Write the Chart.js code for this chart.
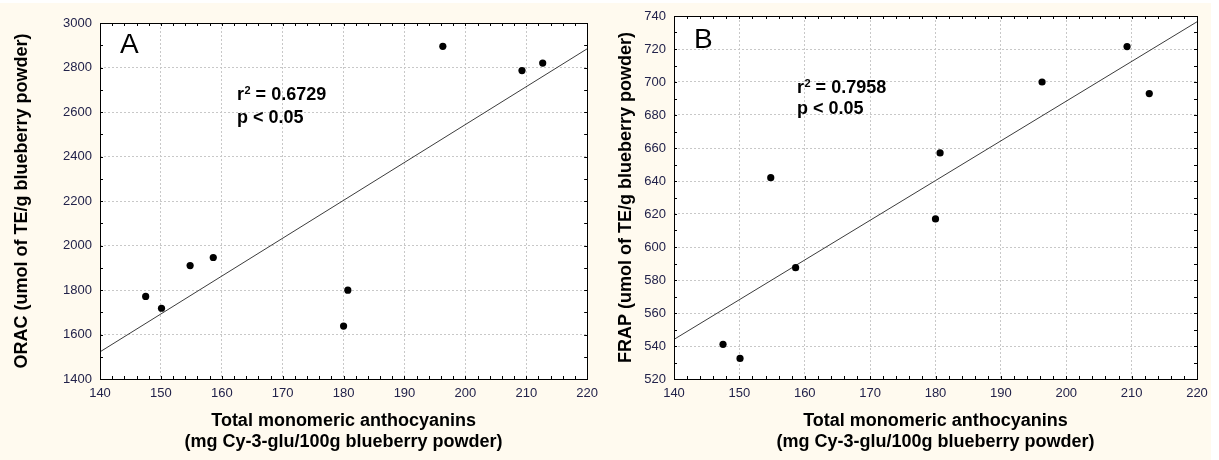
<!DOCTYPE html>
<html>
<head>
<meta charset="utf-8">
<script src="https://cdn.jsdelivr.net/npm/chart.js@4.4.1/dist/chart.umd.min.js"></script>
<style>
  html, body { margin: 0; padding: 0; background: #ffffff; }
  #page { position: absolute; left: 0; top: 3px; width: 1211px; height: 457px; background: #fffaef; }
  .panel { position: absolute; top: 0; height: 460px; }
  #panelA { left: 0; width: 605px; }
  #panelB { left: 605px; width: 614px; }
</style>
</head>
<body>
<div id="page"></div>
<div class="panel" id="panelA"><canvas id="chartA"></canvas></div>
<div class="panel" id="panelB"><canvas id="chartB"></canvas></div>
<script>
// Total monomeric anthocyanins of each blueberry powder sample (mg Cy-3-glu/100g)
const anthocyanins = [147.5, 150.1, 154.8, 158.6, 180.0, 180.7, 196.3, 209.3, 212.7];
// ORAC (umol TE/g) of the same samples
const oracValues = [1771, 1718, 1910, 1946, 1638, 1799, 2895, 2786, 2820];
// FRAP (umol TE/g) of the same samples
const frapValues = [541, 532.5, 642, 587.5, 617, 657, 700, 721.5, 693];
// Fitted regression lines, evaluated at the ends of the x range
const fitX = [140, 220];
const oracFit = [1522, 2884];
const frapFit = [544, 736.5];
// Axis ranges and tick steps
const xRange = [140, 220];
const xMajor = 10, xMinor = 2;
const oracRange = [1400, 3000];
const oracMajor = 200, oracMinor = 100;
const frapRange = [520, 740];
const frapMajor = 20, frapMinor = 10;
// Statistics printed on each panel
const oracStats = ['0.6729', 'p < 0.05'];
const frapStats = ['0.7958', 'p < 0.05'];

const xTitle = ['Total monomeric anthocyanins', '(mg Cy-3-glu/100g blueberry powder)'];
const FONT = '"Liberation Sans", Arial, sans-serif';
const TICK_COLOR = '#22224a';

const pairs = (xs, ys) => xs.map((x, i) => ({ x, y: ys[i] }));
const plainNumber = v => String(v);

// Draws the white plot area, the frame with inward ticks on all four sides,
// the panel letter and the r² / p annotation.
const panelDecor = {
  id: 'panelDecor',
  beforeDraw(chart, args, opts) {
    const { ctx, chartArea: a } = chart;
    ctx.save();
    ctx.fillStyle = '#ffffff';
    ctx.fillRect(a.left, a.top, a.right - a.left, a.bottom - a.top);
    ctx.restore();
  },
  afterDraw(chart, args, opts) {
    const { ctx, chartArea: a, scales } = chart;
    const xs = scales.x, ys = scales.y;
    const tl = 3;
    ctx.save();
    ctx.strokeStyle = '#000000';
    ctx.lineWidth = 1;
    ctx.beginPath();
    for (let v = xs.min + opts.xMinor; v < xs.max - 1e-9; v += opts.xMinor) {
      const px = Math.round(xs.getPixelForValue(v)) + 0.5;
      ctx.moveTo(px, a.bottom); ctx.lineTo(px, a.bottom - tl);
      ctx.moveTo(px, a.top); ctx.lineTo(px, a.top + tl);
    }
    for (let v = ys.min + opts.yMinor; v < ys.max - 1e-9; v += opts.yMinor) {
      const py = Math.round(ys.getPixelForValue(v)) + 0.5;
      ctx.moveTo(a.left, py); ctx.lineTo(a.left + tl, py);
      ctx.moveTo(a.right, py); ctx.lineTo(a.right - tl, py);
    }
    ctx.stroke();
    ctx.strokeRect(Math.round(a.left) + 0.5, Math.round(a.top) + 0.5,
                   Math.round(a.right - a.left), Math.round(a.bottom - a.top));

    // panel letter
    ctx.fillStyle = '#000000';
    ctx.textBaseline = 'alphabetic';
    ctx.textAlign = 'left';
    ctx.font = '28px ' + FONT;
    ctx.fillText(opts.letter, a.left + 20, a.top + opts.letterDy);

    // r² and p annotation
    const tx = a.left + opts.textDx;
    const b1 = a.top + opts.line1Dy, b2 = a.top + opts.line2Dy;
    ctx.font = 'bold 18px ' + FONT;
    ctx.fillText('r', tx, b1);
    const rw = ctx.measureText('r').width;
    ctx.font = 'bold 11px ' + FONT;
    ctx.fillText('2', tx + rw + 0.5, b1 - 6);
    const sw = ctx.measureText('2').width;
    ctx.font = 'bold 18px ' + FONT;
    ctx.fillText(' = ' + opts.stats[0], tx + rw + sw + 0.5, b1);
    ctx.fillText(opts.stats[1], tx, b2);
    ctx.restore();
  }
};

function makeChart(id, cfg) {
  return new Chart(document.getElementById(id), {
    type: 'scatter',
    data: {
      datasets: [
        {
          data: pairs(anthocyanins, cfg.values),
          backgroundColor: '#000000',
          borderWidth: 0,
          pointRadius: 3.6,
          pointHoverRadius: 3.6,
          order: 0
        },
        {
          type: 'line',
          data: pairs(fitX, cfg.fit),
          borderColor: '#3c3c3c',
          borderWidth: 1,
          pointRadius: 0,
          fill: false,
          order: 1
        }
      ]
    },
    options: {
      responsive: true,
      maintainAspectRatio: false,
      animation: false,
      devicePixelRatio: 1,
      layout: { padding: { top: cfg.padTop, right: cfg.padRight, left: 0, bottom: 0 } },
      plugins: {
        legend: { display: false },
        tooltip: { enabled: false },
        panelDecor: {
          letter: cfg.letter,
          letterDy: cfg.letterDy,
          textDx: cfg.textDx,
          line1Dy: cfg.line1Dy,
          line2Dy: cfg.line2Dy,
          stats: cfg.stats,
          xMinor: xMinor,
          yMinor: cfg.yMinor
        }
      },
      scales: {
        x: {
          type: 'linear',
          min: xRange[0], max: xRange[1],
          afterFit: s => { s.height = 81; },
          ticks: {
            stepSize: xMajor,
            padding: 7,
            color: TICK_COLOR,
            font: { family: FONT, size: 13 },
            maxRotation: 0,
            callback: plainNumber
          },
          grid: { color: '#c8c8c8', lineWidth: 1, drawTicks: false },
          border: { display: false, dash: [2, 2] },
          title: {
            display: true,
            text: xTitle,
            color: '#000000',
            font: { family: FONT, size: 18, weight: 'bold', lineHeight: 1.2 },
            padding: { top: 0, bottom: 7 }
          }
        },
        y: {
          type: 'linear',
          min: cfg.range[0], max: cfg.range[1],
          afterFit: s => { s.width = cfg.yWidth; },
          ticks: {
            stepSize: cfg.yMajor,
            padding: 8,
            color: TICK_COLOR,
            font: { family: FONT, size: 13 },
            callback: plainNumber
          },
          grid: { color: '#c8c8c8', lineWidth: 1, drawTicks: false },
          border: { display: false, dash: [2, 2] },
          title: {
            display: true,
            text: cfg.yTitle,
            color: '#000000',
            font: { family: FONT, size: 18, weight: 'bold', lineHeight: 1.2 },
            padding: { top: cfg.yTitlePad, bottom: 0 }
          }
        }
      }
    },
    plugins: [panelDecor]
  });
}

makeChart('chartA', {
  values: oracValues, fit: oracFit, range: oracRange,
  yMajor: oracMajor, yMinor: oracMinor,
  yTitle: 'ORAC (umol of TE/g blueberry powder)',
  yWidth: 100, yTitlePad: 11, padTop: 23, padRight: 15,
  letter: 'A', letterDy: 30, textDx: 137, line1Dy: 77, line2Dy: 100,
  stats: oracStats
});

makeChart('chartB', {
  values: frapValues, fit: frapFit, range: frapRange,
  yMajor: frapMajor, yMinor: frapMinor,
  yTitle: 'FRAP (umol of TE/g blueberry powder)',
  yWidth: 69, yTitlePad: 10, padTop: 16, padRight: 22,
  letter: 'B', letterDy: 32, textDx: 123, line1Dy: 77, line2Dy: 98,
  stats: frapStats
});
</script>
</body>
</html>
